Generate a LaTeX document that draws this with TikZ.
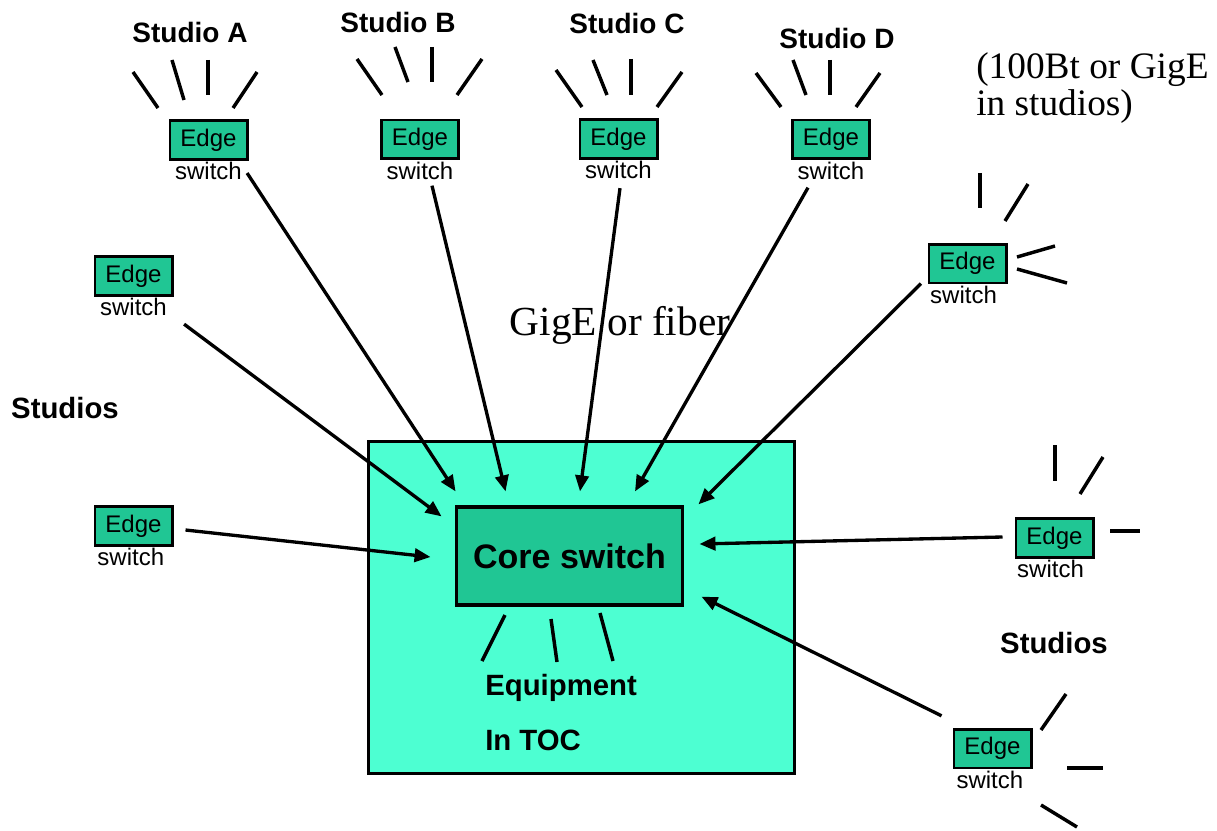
\documentclass[tikz,border=0pt]{standalone}
\usepackage{fontspec}
\setmainfont{Liberation Serif}
\setsansfont{Liberation Sans}
\usetikzlibrary{positioning,calc,arrows.meta}

\definecolor{tocfill}{RGB}{77,255,210}
\definecolor{swfill}{RGB}{32,198,148}

\tikzset{
  edgesw/.style={draw=black,line width=2pt,fill=swfill,minimum width=58pt,minimum height=29pt,
                 inner sep=0pt,font=\sffamily\fontsize{18}{18}\selectfont},
  swlabel/.style={inner sep=0pt,font=\sffamily\fontsize{18}{18}\selectfont},
  studiolbl/.style={inner sep=0pt,font=\sffamily\bfseries\fontsize{21}{21}\selectfont},
  bigtext/.style={inner sep=0pt,font=\sffamily\bfseries\fontsize{22}{22}\selectfont},
  arr/.style={line width=2.5pt,-{Triangle[length=12pt,width=10pt]}},
  ray/.style={line width=2.6pt}
}

\begin{document}
\begin{tikzpicture}[x=0.75pt,y=-0.75pt]
  \useasboundingbox (0,0) rectangle (1217,831);

  % TOC and core switch
  \node[draw=black,line width=2.4pt,fill=tocfill,minimum width=319pt,minimum height=249pt] (toc) at (581.5,607.5) {};
  \node[draw=black,line width=2.4pt,fill=swfill,minimum width=170pt,minimum height=73.5pt,
        font=\sffamily\bfseries\fontsize{25.5}{25.5}\selectfont] (core) at (569.5,556) {Core switch};
  \node[bigtext,anchor=west] (equip) at (485,688) {Equipment};
  \node[bigtext,anchor=west] (intoc) at (485,740) {In TOC};
  \draw[ray] (505,615) -- (482,661);
  \draw[ray] (551,619) -- (557,662);
  \draw[ray] (600,613) -- (613,661);

  % edge switches
  \node[edgesw] (swA)  at (208.5,140)  {Edge};
  \node[edgesw] (swB)  at (420,139.5)  {Edge};
  \node[edgesw] (swC)  at (618.5,139)  {Edge};
  \node[edgesw] (swD)  at (831,139.5)  {Edge};
  \node[edgesw] (swLU) at (133.5,276)  {Edge};
  \node[edgesw] (swLL) at (133.5,526)  {Edge};
  \node[edgesw] (swRU) at (967.5,263.5) {Edge};
  \node[edgesw] (swRM) at (1054.5,538) {Edge};
  \node[edgesw] (swRB) at (992.5,748.5) {Edge};
  \node[swlabel,below=1pt of swA]  (lblA)  {switch};
  \node[swlabel,below=1pt of swB]  (lblB)  {switch};
  \node[swlabel,below=1pt of swC]  (lblC)  {switch};
  \node[swlabel,below=1pt of swD]  (lblD)  {switch};
  \node[swlabel,below=1pt of swLU] (lblLU) {switch};
  \node[swlabel,below=1pt of swLL,xshift=-2pt] (lblLL) {switch};
  \node[swlabel,below=1pt of swRU,xshift=-3pt] (lblRU) {switch};
  \node[swlabel,below=1pt of swRM,xshift=-3pt] (lblRM) {switch};
  \node[swlabel,below=1pt of swRB,xshift=-2pt] (lblRB) {switch};

  % labels
  \node[studiolbl] (stA) at (190,32) {Studio A};
  \node[studiolbl] (stB) at (398,22) {Studio B};
  \node[studiolbl] (stC) at (627,23) {Studio C};
  \node[studiolbl] (stD) at (837,38) {Studio D};
  \node[bigtext] (studL) at (65,408)   {Studios};
  \node[bigtext] (studR) at (1054,643) {Studios};
  \node[inner sep=0pt,font=\fontsize{31}{31}\selectfont] (gige) at (620,325) {GigE or fiber};
  \node[inner sep=0pt,anchor=west,align=left,font=\fontsize{28}{28}\selectfont] (note) at (976,88)
       {(100Bt or GigE\\in studios)};

  % studio drops
  \draw[ray] (133,72) -- (158,108);  \draw[ray] (172,60) -- (184,100);
  \draw[ray] (208,60) -- (208,95);   \draw[ray] (257,72) -- (233,108);
  \draw[ray] (357,59) -- (382,95);   \draw[ray] (395,47) -- (408,82);
  \draw[ray] (432,47) -- (432,82);   \draw[ray] (482,59) -- (457,95);
  \draw[ray] (556,70) -- (582,107);  \draw[ray] (593,60) -- (607,95);
  \draw[ray] (631,59) -- (631,95);   \draw[ray] (682,72) -- (657,107);
  \draw[ray] (756,73) -- (781,107);  \draw[ray] (793,60) -- (806,95);
  \draw[ray] (830,60) -- (830,95);   \draw[ray] (880,73) -- (856,107);
  \draw[ray] (980,173) -- (980,208); \draw[ray] (1028,184) -- (1005,221);
  \draw[ray] (1055,246) -- (1017,257); \draw[ray] (1017,269) -- (1067,283);
  \draw[ray] (1055,445) -- (1055,481); \draw[ray] (1103,457) -- (1080,494);
  \draw[ray] (1110,531) -- (1140,531);
  \draw[ray] (1066,694) -- (1041,730); \draw[ray] (1067,768) -- (1103,768);
  \draw[ray] (1041,805) -- (1077,827);

  % links to the core
  \draw[arr] ($(lblA.east)+(5,2)$)        -- ($(core.north west)+(1,-14)$);
  \draw[arr] ($(lblB.south)+(12,6)$)      -- ($(core.north west)+(51,-14)$);
  \draw[arr] ($(lblC.south)+(1.5,9)$)     -- ($(core.north)+(10.5,-14)$);
  \draw[arr] ($(lblD.south)+(-23,8)$)     -- ($(core.north)+(65.5,-14)$);
  \draw[arr] ($(lblRU.west)+(-9,-11)$)    -- ($(core.north east)+(14,-1)$);
  \draw[arr] ($(lblLU.south east)+(17,8)$) -- ($(core.north west)+(-13,11)$);
  \draw[arr] ($(swLL.east)+(12,4)$)       -- ($(core.west)+(-24,1)$);
  \draw[arr] ($(swRM.west)+(-12,-1)$)     -- ($(core.east)+(15,-12)$);
  \draw[arr] ($(swRB.north west)+(-11,-12)$) -- ($(core.south east)+(17,-10)$);
\end{tikzpicture}
\end{document}
